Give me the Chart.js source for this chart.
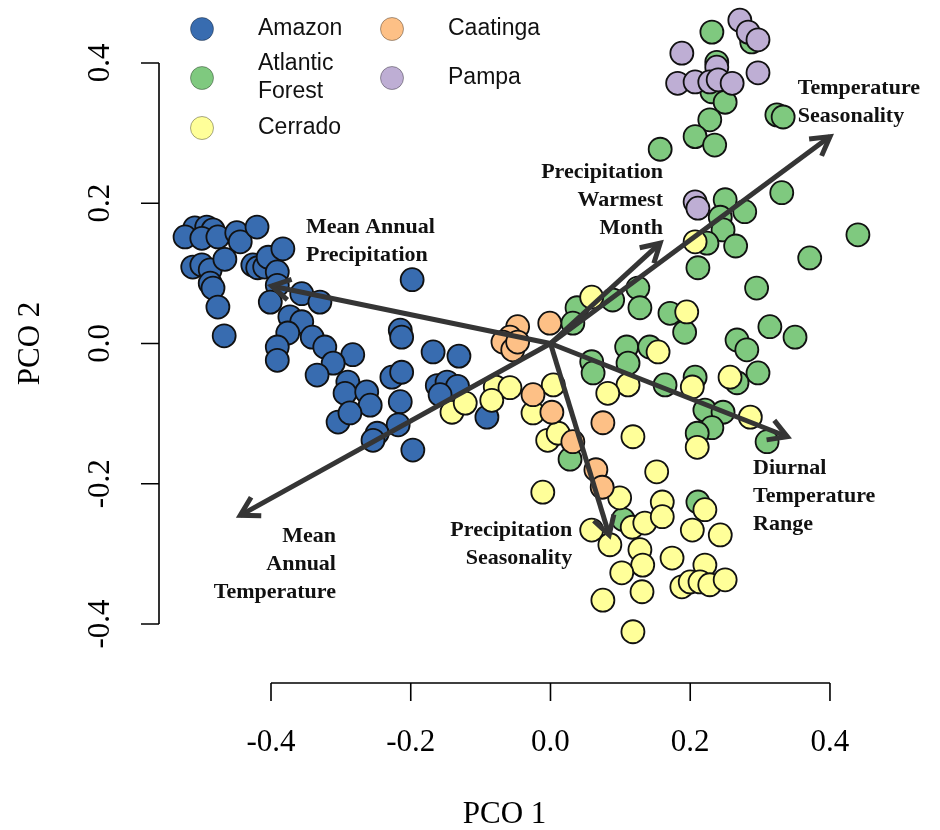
<!DOCTYPE html>
<html>
<head>
<meta charset="utf-8">
<script src="https://cdn.jsdelivr.net/npm/chart.js@4.4.1/dist/chart.umd.min.js"></script>
<style>
  body { margin: 0; background: #fff; }
  canvas { display: block; }
</style>
</head>
<body>
<canvas id="myChart" width="940" height="830"></canvas>
<script>
// categories (biomes) and their colours
var categories = ['Amazon', 'Atlantic Forest', 'Cerrado', 'Caatinga', 'Pampa'];
var colors = ['#386CB0', '#7FC97F', '#FFFF99', '#FDC086', '#BEAED4'];

// PCO scores
var amazonX = [-0.509, -0.492, -0.483, -0.523, -0.499, -0.476, -0.449, -0.444, -0.420, -0.512,
  -0.499, -0.487, -0.466, -0.487, -0.483, -0.476, -0.467, -0.426, -0.419, -0.409,
  -0.404, -0.383, -0.391, -0.391, -0.401, -0.356, -0.330, -0.198, -0.373, -0.356,
  -0.376, -0.391, -0.391, -0.341, -0.323, -0.283, -0.311, -0.334, -0.290, -0.294,
  -0.263, -0.258, -0.304, -0.287, -0.215, -0.213, -0.227, -0.213, -0.215, -0.218,
  -0.248, -0.254, -0.197, -0.168, -0.131, -0.162, -0.148, -0.133, -0.158, -0.091];
var amazonY = [0.165, 0.166, 0.162, 0.152, 0.150, 0.152, 0.158, 0.145, 0.166, 0.109,
  0.112, 0.105, 0.120, 0.086, 0.079, 0.052, 0.011, 0.112, 0.108, 0.109,
  0.123, 0.135, 0.102, 0.083, 0.059, 0.071, 0.059, 0.091, 0.038, 0.031,
  0.015, -0.005, -0.024, 0.009, -0.005, -0.016, -0.028, -0.045, -0.055, -0.071,
  -0.069, -0.088, -0.112, -0.099, 0.019, 0.009, -0.048, -0.041, -0.083, -0.116,
  -0.128, -0.138, -0.152, -0.012, -0.018, -0.060, -0.055, -0.061, -0.073, -0.105];

var atlanticX = [0.288, 0.231, 0.238, 0.231, 0.250, 0.228, 0.207, 0.235, 0.157, 0.324,
  0.333, 0.331, 0.250, 0.278, 0.243, 0.247, 0.440, 0.371, 0.224, 0.265,
  0.211, 0.295, 0.314, 0.350, 0.267, 0.281, 0.297, 0.267, 0.125, 0.128,
  0.089, 0.038, 0.032, 0.171, 0.192, 0.109, 0.142, 0.111, 0.059, 0.061,
  0.164, 0.207, 0.221, 0.247, 0.231, 0.210, 0.310, 0.028, 0.211, 0.104];
var atlanticY = [0.430, 0.444, 0.401, 0.359, 0.344, 0.319, 0.295, 0.283, 0.277, 0.326,
  0.323, 0.215, 0.205, 0.188, 0.180, 0.162, 0.155, 0.122, 0.143, 0.139,
  0.108, 0.079, 0.024, 0.009, 0.005, -0.009, -0.042, -0.056, 0.079, 0.051,
  0.062, 0.051, 0.029, 0.043, 0.016, -0.005, -0.005, -0.028, -0.026, -0.042,
  -0.059, -0.048, -0.095, -0.098, -0.120, -0.128, -0.140, -0.165, -0.226, -0.251];

var cerradoX = [-0.141, -0.122, -0.079, -0.058, -0.084, 0.059, 0.195, 0.154, 0.111, 0.082,
  0.004, -0.025, 0.118, -0.004, 0.011, 0.203, 0.257, 0.286, 0.210, 0.152,
  -0.011, 0.099, 0.160, 0.221, 0.059, 0.085, 0.117, 0.135, 0.160, 0.203,
  0.243, 0.128, 0.132, 0.102, 0.174, 0.221, 0.188, 0.200, 0.214, 0.228,
  0.250, 0.131, 0.075, 0.118, 0.207];
var cerradoY = [-0.098, -0.085, -0.062, -0.063, -0.081, 0.066, 0.045, -0.012, -0.059, -0.071,
  -0.059, -0.099, -0.133, -0.138, -0.128, -0.062, -0.048, -0.105, -0.148, -0.183,
  -0.212, -0.220, -0.226, -0.237, -0.266, -0.287, -0.262, -0.256, -0.247, -0.266,
  -0.273, -0.294, -0.316, -0.327, -0.306, -0.316, -0.347, -0.340, -0.340, -0.344,
  -0.337, -0.354, -0.366, -0.411, 0.145];

var caatingaX = [-0.047, -0.058, -0.068, -0.054, -0.047, -0.001, -0.025, 0.002, 0.075, 0.032, 0.065, 0.074];
var caatingaY = [0.024, 0.009, 0.002, -0.009, 0.002, 0.029, -0.073, -0.098, -0.113, -0.140, -0.180, -0.205];

var pampaX = [0.271, 0.283, 0.297, 0.188, 0.238, 0.182, 0.207, 0.228, 0.240, 0.260, 0.297, 0.207, 0.211];
var pampaY = [0.461, 0.444, 0.433, 0.414, 0.394, 0.371, 0.373, 0.373, 0.376, 0.371, 0.386, 0.202, 0.193];

// environmental vectors (arrow tips)
var vectorNames = ['Mean Annual Precipitation', 'Precipitation Warmest Month', 'Temperature Seasonality',
  'Diurnal Temperature Range', 'Mean Annual Temperature', 'Precipitation Seasonality'];
var vectorX = [-0.399, 0.157, 0.400, 0.339, -0.444, 0.084];
var vectorY = [0.082, 0.143, 0.295, -0.133, -0.245, -0.273];

var tickValues = [-0.4, -0.2, 0.0, 0.2, 0.4];
var tickLabels = ['-0.4', '-0.2', '0.0', '0.2', '0.4'];

// label placement for the vectors (data units, first line) and alignment
var vectorLabels = [
  { lines: ['Mean Annual', 'Precipitation'], x: -0.350, y: 0.165, align: 'left' },
  { lines: ['Precipitation', 'Warmest', 'Month'], x: 0.161, y: 0.2445, align: 'right' },
  { lines: ['Temperature', 'Seasonality'], x: 0.354, y: 0.364, align: 'left' },
  { lines: ['Diurnal', 'Temperature', 'Range'], x: 0.290, y: -0.1775, align: 'left' },
  { lines: ['Mean', 'Annual', 'Temperature'], x: -0.307, y: -0.2745, align: 'right' },
  { lines: ['Precipitation', 'Seasonality'], x: 0.031, y: -0.266, align: 'right' }
];

function pts(xs, ys) {
  return xs.map(function (x, i) { return { x: x, y: ys[i] }; });
}

var series = [[amazonX, amazonY], [atlanticX, atlanticY], [cerradoX, cerradoY], [caatingaX, caatingaY], [pampaX, pampaY]];

var datasets = categories.map(function (name, i) {
  return {
    label: name,
    data: pts(series[i][0], series[i][1]),
    backgroundColor: colors[i],
    borderColor: '#111',
    borderWidth: 1.8,
    pointRadius: 11.5,
    pointHoverRadius: 11.5,
    order: categories.length - i,
    clip: false
  };
});

var serif = '"Liberation Serif", "Times New Roman", serif';
var sans = '"Liberation Sans", Arial, sans-serif';

// R style axes, vectors, labels and legend
var biplot = {
  id: 'biplot',
  afterDatasetsDraw: function (chart) {
    var ctx = chart.ctx;
    var xs = chart.scales.x, ys = chart.scales.y;
    var area = chart.chartArea;
    var x0 = xs.getPixelForValue(0), y0 = ys.getPixelForValue(0);

    ctx.save();
    // arrows
    ctx.strokeStyle = '#353535';
    ctx.lineWidth = 5;
    ctx.lineCap = 'butt';
    ctx.lineJoin = 'miter';
    vectorX.forEach(function (vx, i) {
      var px = xs.getPixelForValue(vx), py = ys.getPixelForValue(vectorY[i]);
      ctx.beginPath();
      ctx.moveTo(x0, y0);
      ctx.lineTo(px, py);
      ctx.stroke();
      var ang = Math.atan2(py - y0, px - x0);
      var hl = 21, ha = Math.PI / 6;
      ctx.beginPath();
      ctx.moveTo(px - hl * Math.cos(ang - ha), py - hl * Math.sin(ang - ha));
      ctx.lineTo(px, py);
      ctx.lineTo(px - hl * Math.cos(ang + ha), py - hl * Math.sin(ang + ha));
      ctx.stroke();
    });

    // vector labels
    ctx.fillStyle = '#111';
    ctx.font = 'bold 22px ' + serif;
    ctx.textBaseline = 'middle';
    vectorLabels.forEach(function (lab) {
      var lx = xs.getPixelForValue(lab.x), ly = ys.getPixelForValue(lab.y);
      ctx.textAlign = lab.align;
      lab.lines.forEach(function (t, j) {
        ctx.fillText(t, lx, ly + j * 28);
      });
    });

    // axes
    ctx.strokeStyle = '#000';
    ctx.lineWidth = 1.6;
    ctx.fillStyle = '#000';
    ctx.font = '31px ' + serif;
    var tl = 18;
    // x axis
    var xb = area.bottom;
    ctx.beginPath();
    ctx.moveTo(xs.getPixelForValue(tickValues[0]), xb);
    ctx.lineTo(xs.getPixelForValue(tickValues[tickValues.length - 1]), xb);
    tickValues.forEach(function (v) {
      var p = xs.getPixelForValue(v);
      ctx.moveTo(p, xb);
      ctx.lineTo(p, xb + tl);
    });
    ctx.stroke();
    ctx.textAlign = 'center';
    ctx.textBaseline = 'middle';
    tickValues.forEach(function (v, i) {
      ctx.fillText(tickLabels[i], xs.getPixelForValue(v), xb + 60);
    });
    ctx.fillText('PCO 1', (area.left + area.right) / 2 - 15, xb + 132);

    // y axis
    var yl = area.left;
    ctx.beginPath();
    ctx.moveTo(yl, ys.getPixelForValue(tickValues[0]));
    ctx.lineTo(yl, ys.getPixelForValue(tickValues[tickValues.length - 1]));
    tickValues.forEach(function (v) {
      var p = ys.getPixelForValue(v);
      ctx.moveTo(yl, p);
      ctx.lineTo(yl - tl, p);
    });
    ctx.stroke();
    tickValues.forEach(function (v, i) {
      ctx.save();
      ctx.translate(yl - 58, ys.getPixelForValue(v));
      ctx.rotate(-Math.PI / 2);
      ctx.fillText(tickLabels[i], 0, 0);
      ctx.restore();
    });
    ctx.save();
    ctx.translate(yl - 128, y0);
    ctx.rotate(-Math.PI / 2);
    ctx.fillText('PCO 2', 0, 0);
    ctx.restore();

    // legend: two columns
    var cols = [[0, 1, 2], [3, 4]];
    var colX = [202, 392];
    var rowY = [29, 78, 128];
    ctx.font = '23px ' + sans;
    ctx.textAlign = 'left';
    ctx.textBaseline = 'middle';
    cols.forEach(function (col, c) {
      col.forEach(function (di, r) {
        var cy = rowY[r];
        ctx.beginPath();
        ctx.arc(colX[c], cy, 11.5, 0, Math.PI * 2);
        ctx.fillStyle = colors[di];
        ctx.fill();
        ctx.strokeStyle = 'rgba(0,0,0,0.35)';
        ctx.lineWidth = 1;
        ctx.stroke();
        ctx.fillStyle = '#111';
        var words = categories[di].split(' ');
        if (words.length > 1) {
          ctx.fillText(words[0], colX[c] + 56, cy - 14);
          ctx.fillText(words[1], colX[c] + 56, cy + 14);
        } else {
          ctx.fillText(categories[di], colX[c] + 56, cy);
        }
      });
    });
    ctx.restore();
  }
};

var ctx = document.getElementById('myChart').getContext('2d');
var chart = new Chart(ctx, {
  type: 'scatter',
  data: { datasets: datasets },
  options: {
    responsive: false,
    animation: false,
    devicePixelRatio: 1,
    layout: { autoPadding: false, padding: { left: 159, right: 60, top: 0, bottom: 147 } },
    scales: {
      x: { type: 'linear', display: false, min: -0.5603, max: 0.4716 },
      y: { type: 'linear', display: false, min: -0.4841, max: 0.4898 }
    },
    plugins: {
      legend: { display: false },
      tooltip: { enabled: false }
    }
  },
  plugins: [biplot]
});
</script>
</body>
</html>
